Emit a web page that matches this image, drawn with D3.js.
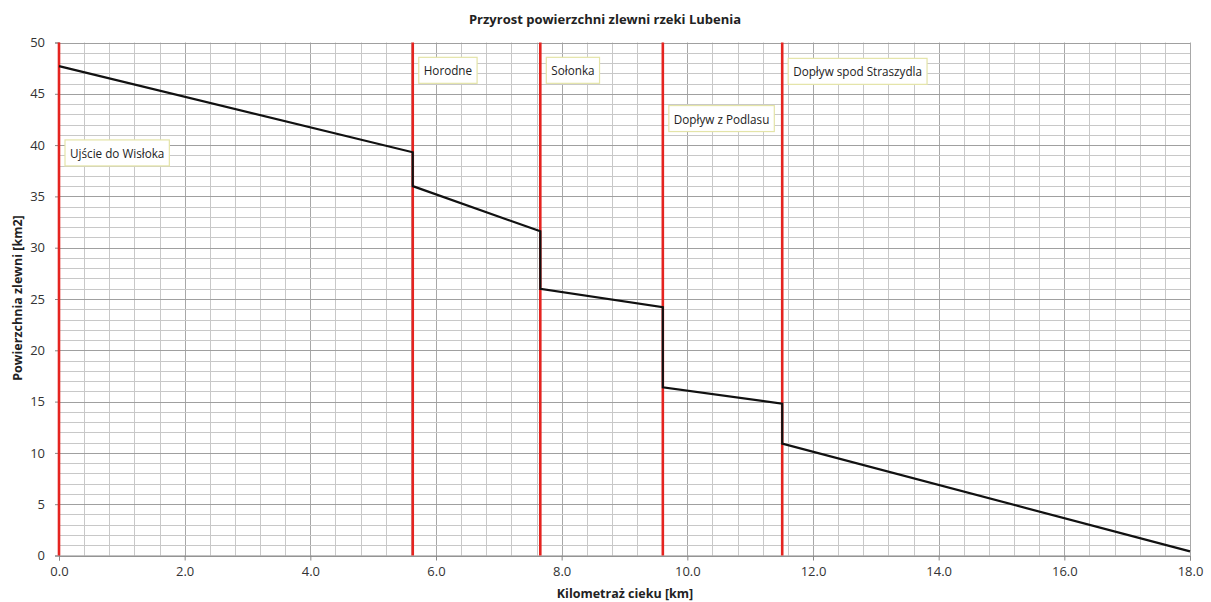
<!DOCTYPE html>
<html><head><meta charset="utf-8">
<script src="https://cdn.jsdelivr.net/npm/d3@7"></script>
<style>body{margin:0;background:#fff;} text{font-family:"Open Sans","Noto Sans",sans-serif;}</style>
</head><body>
<svg id="c" width="1211" height="602"></svg>
<script>
const kmValues = [0, 5.63, 5.63, 7.66, 7.66, 9.61, 9.61, 11.51, 11.51, 18];
const areaValues = [47.7, 39.3, 36.0, 31.6, 26.0, 24.2, 16.4, 14.8, 10.9, 0.4];
const tributaryNames = ["Ujście do Wisłoka", "Horodne", "Sołonka", "Dopływ z Podlasu", "Dopływ spod Straszydla"];
const tributaryKm = [0, 5.63, 7.66, 9.61, 11.51];
const labelLevels = [38.75, 46.8, 46.8, 42.1, 46.7];
const xTicks = [0, 2, 4, 6, 8, 10, 12, 14, 16, 18];
const yTicks = [0, 5, 10, 15, 20, 25, 30, 35, 40, 45, 50];

const svg = d3.select("#c");
const L = 59, R = 1190, T = 42.5, B = 555.5;
const x = d3.scaleLinear().domain([0, 18]).range([L, R]);
const y = d3.scaleLinear().domain([0, 50]).range([B, T]);

// grid
const g = svg.append("g");
g.selectAll(".vx").data(d3.range(0, 18.001, 0.4)).join("line")
  .attr("x1", d => Math.round(x(d)) + 0.5).attr("x2", d => Math.round(x(d)) + 0.5)
  .attr("y1", T).attr("y2", B)
  .attr("stroke", (d) => Math.abs(d / 2 - Math.round(d / 2)) < 1e-6 ? "#a8a8a8" : "#c8c8c8").attr("stroke-width", 1);
g.selectAll(".hy").data(d3.range(0, 50.001, 1)).join("line")
  .attr("x1", L).attr("x2", R)
  .attr("y1", d => Math.round(y(d)) + 0.5).attr("y2", d => Math.round(y(d)) + 0.5)
  .attr("stroke", d => d % 5 === 0 ? "#a0a0a0" : "#c8c8c8").attr("stroke-width", 1);

// axes
const xAxis = d3.axisBottom(x).tickValues(xTicks).tickFormat(d3.format(".1f")).tickSize(5).tickPadding(6);
const yAxis = d3.axisLeft(y).tickValues(yTicks).tickFormat(d3.format("d")).tickSize(4).tickPadding(10);
const gx = svg.append("g").attr("transform", `translate(0,${B})`).call(xAxis);
const gy = svg.append("g").attr("transform", `translate(${L},0)`).call(yAxis);
[gx, gy].forEach(a => {
  a.select(".domain").attr("stroke", "#888");
  a.selectAll(".tick line").attr("stroke", "#888");
  a.selectAll("text").attr("fill", "#333").style("font-size", "13px").style("font-family", "'Open Sans',sans-serif");
});

// red tributary lines
svg.selectAll(".trib").data(tributaryKm).join("line")
  .attr("x1", d => x(d)).attr("x2", d => x(d)).attr("y1", T).attr("y2", B)
  .attr("stroke", "#e52420").attr("stroke-width", 2.6);

// data line
const pts = kmValues.map((k, i) => [k, areaValues[i]]);
svg.append("path").datum(pts)
  .attr("d", d3.line().x(d => x(d[0])).y(d => y(d[1])))
  .attr("fill", "none").attr("stroke", "#111").attr("stroke-width", 2.2);

// labels
tributaryNames.forEach((name, i) => {
  const gl = svg.append("g");
  const tx = x(tributaryKm[i]) + 11, ty = y(labelLevels[i]);
  const t = gl.append("text").attr("x", tx).attr("y", ty).text(name)
    .attr("fill", "#222").style("font-size", "11.7px");
  const bb = t.node().getBBox();
  gl.insert("rect", "text").attr("x", bb.x - 5).attr("y", bb.y - 5)
    .attr("width", bb.width + 10).attr("height", bb.height + 10)
    .attr("fill", "#fff").attr("stroke", "#e4e4a8").attr("stroke-width", 1.2);
});

// titles
svg.append("text").attr("x", 605).attr("y", 24).attr("text-anchor", "middle")
  .style("font-size", "13px").style("font-weight", "bold").attr("fill", "#222")
  .text("Przyrost powierzchni zlewni rzeki Lubenia");
svg.append("text").attr("x", 625).attr("y", 598).attr("text-anchor", "middle")
  .style("font-size", "12.5px").style("font-weight", "bold").attr("fill", "#222")
  .text("Kilometraż  cieku [km]");
svg.append("text").attr("transform", "translate(22,298) rotate(-90)").attr("text-anchor", "middle")
  .style("font-size", "12.5px").style("font-weight", "bold").attr("fill", "#222")
  .text("Powierzchnia zlewni [km2]");
</script>
</body></html>
